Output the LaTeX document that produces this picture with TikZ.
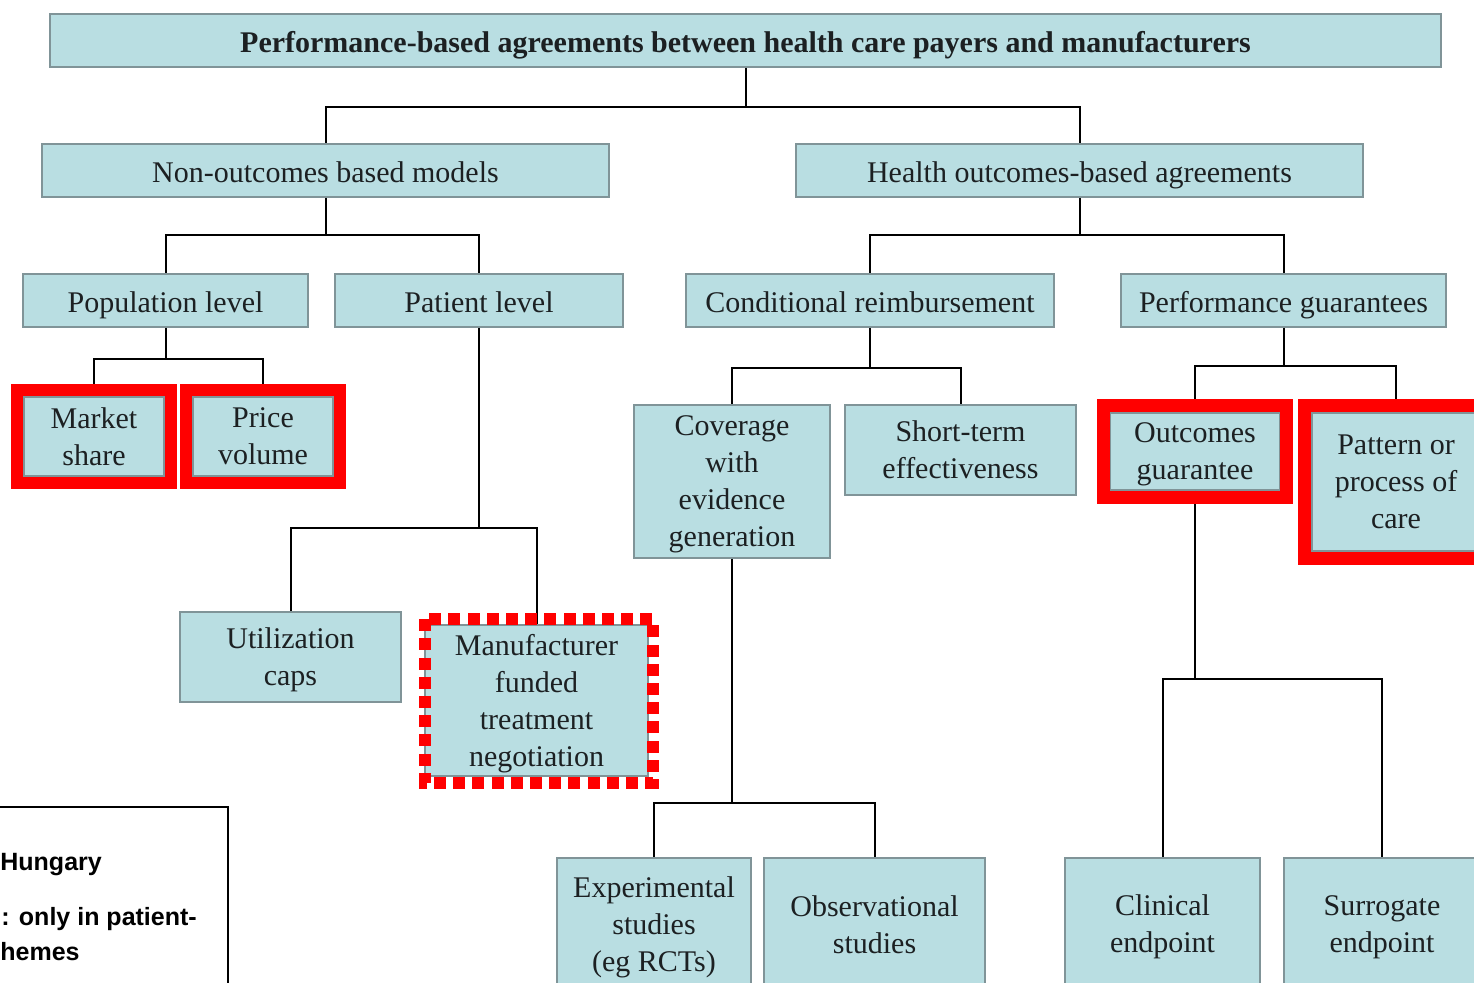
\documentclass[tikz,border=0pt]{standalone}
\usepackage{fontspec}
\setmainfont{Liberation Serif}
\newfontfamily\legendfont{Liberation Sans}
\definecolor{boxfill}{RGB}{185,222,226}
\definecolor{boxline}{RGB}{128,148,152}
\definecolor{textcol}{RGB}{28,32,34}
\definecolor{alert}{RGB}{255,0,0}
\begin{document}
\begin{tikzpicture}[x=0.5pt,y=-0.5pt,
  box/.style={draw=boxline, fill=boxfill, line width=0.8pt, align=center,
    inner sep=0pt, text=textcol, font=\fontsize{15}{18.5}\selectfont},
  oneline/.style={text height=13pt, text depth=0.8pt},
  headbox/.style={box, oneline, font=\fontsize{15}{18.5}\selectfont\bfseries},
  link/.style={draw=black, line width=1pt},
  redframe/.style={draw=alert, line width=6pt},
  reddash/.style={draw=alert, line width=6pt, dash pattern=on 6pt off 3.6pt},
  legendtext/.style={inner sep=0pt, anchor=west,
    font=\legendfont\bfseries\fontsize{12.5}{15}\selectfont}]
\useasboundingbox (0,0) rectangle (1474,983);
\fill[white] (0,0) rectangle (1474,983);

% top level
\node[headbox, minimum width=695.5pt, minimum height=26.5pt] (title) at (745.5,40.5)
  {Performance-based agreements between health care payers and manufacturers};

% second level
\node[box, oneline, minimum width=283.5pt, minimum height=26.5pt] (nonout) at (325.5,170.5) {Non-outcomes based models};
\node[box, oneline, minimum width=283.5pt, minimum height=26.5pt] (health) at (1079.5,170.5) {Health outcomes-based agreements};

% third level
\node[box, oneline, minimum width=142.5pt, minimum height=26.5pt] (pop) at (165.5,300.5) {Population level};
\node[box, oneline, minimum width=144pt, minimum height=26.5pt] (pat) at (479,300.5) {Patient level};
\node[box, oneline, minimum width=184pt, minimum height=26.5pt] (cond) at (870,300.5) {Conditional reimbursement};
\node[box, oneline, minimum width=162.5pt, minimum height=26.5pt] (perf) at (1283.5,300.5) {Performance guarantees};

% fourth level
\node[box, text depth=-2pt, minimum width=70pt, minimum height=39.5pt] (ms) at (94,436.5) {Market\\share};
\node[box, text depth=-5pt, minimum width=70pt, minimum height=39.5pt] (pv) at (263,436.5) {Price\\volume};
\node[box, text depth=-8.8pt, minimum width=98pt, minimum height=76.5pt] (cov) at (732,481.5) {Coverage\\with\\evidence\\generation};
\node[box, text depth=-5pt, minimum width=115.5pt, minimum height=45pt] (short) at (960.5,450) {Short-term\\effectiveness};
\node[box, text depth=-1.8pt, minimum width=84.5pt, minimum height=38.5pt] (og) at (1195,451.5) {Outcomes\\guarantee};
\node[box, text depth=-5pt, minimum width=84pt, minimum height=69pt] (poc) at (1396,482) {Pattern or\\process of\\care};

% patient level options
\node[box, text depth=-5.8pt, minimum width=110.5pt, minimum height=45pt] (util) at (290.5,657) {Utilization\\caps};
\node[box, text depth=-8.8pt, minimum width=111.5pt, minimum height=75.5pt] (mft) at (536.5,700.5) {Manufacturer\\funded\\treatment\\negotiation};

% bottom level
\node[box, text depth=-5.7pt, minimum width=97pt, minimum height=66.5pt] (exp) at (654,924.5) {Experimental\\studies\\(eg RCTs)};
\node[box, minimum width=110.5pt, minimum height=66.5pt] (obs) at (874.5,924.5) {Observational\\studies};
\node[box, text depth=1.2pt, minimum width=97.5pt, minimum height=66.5pt] (clin) at (1162.5,924.5) {Clinical\\endpoint};
\node[box, text depth=0.2pt, minimum width=98pt, minimum height=66.5pt] (sur) at (1382,924.5) {Surrogate\\endpoint};

% tree connectors
\draw[link] (title.south) -- ++(0,39) coordinate (j0) -| (nonout.north) (j0) -| (health.north);
\draw[link] (nonout.south) -- ++(0,37) coordinate (j1) -| (pop.north) (j1) -| (pat.north);
\draw[link] (health.south) -- ++(0,37) coordinate (j2) -| (cond.north) (j2) -| (perf.north);
\draw[link] (pop.south) -- ++(0,31) coordinate (j3) -| (ms.north) (j3) -| (pv.north);
\draw[link] (pat.south) -- ++(0,200) coordinate (j4) -| (util.north) (j4) -| (mft.north);
\draw[link] (cond.south) -- ++(0,40) coordinate (j5) -| (cov.north) (j5) -| (short.north);
\draw[link] (perf.south) -- ++(0,38) coordinate (j6) -| (og.north) (j6) -| (poc.north);
\draw[link] (cov.south) -- ++(0,244) coordinate (j7) -| (exp.north) (j7) -| (obs.north);
\draw[link] (og.south) -- ++(0,188) coordinate (j8) -| (clin.north) (j8) -| (sur.north);

% highlight frames
\draw[redframe] ([shift={(-6,-6)}]ms.north west) rectangle ([shift={(6,6)}]ms.south east);
\draw[redframe] ([shift={(-6,-6)}]pv.north west) rectangle ([shift={(6,6)}]pv.south east);
\draw[redframe, line width=6.5pt] ([shift={(-6.5,-6.5)}]og.north west) rectangle ([shift={(6.5,6.5)}]og.south east);
\draw[redframe, line width=6.5pt] ([shift={(-6.5,-6.5)}]poc.north west) rectangle ([shift={(6.5,6.5)}]poc.south east);
\draw[reddash] ([shift={(0.5,-5)}]mft.north west) rectangle ([shift={(4.5,6)}]mft.south east);

% legend
\draw[draw=black, line width=1pt, fill=white] (-10,807) rectangle (228,1000);
\node[legendtext] (lg1) at (0,865) {Hungary};
\node[legendtext] (lg2) at (1,919) {: only in patient-};
\node[legendtext] (lg3) at (0,952) {hemes};
\end{tikzpicture}
\end{document}
